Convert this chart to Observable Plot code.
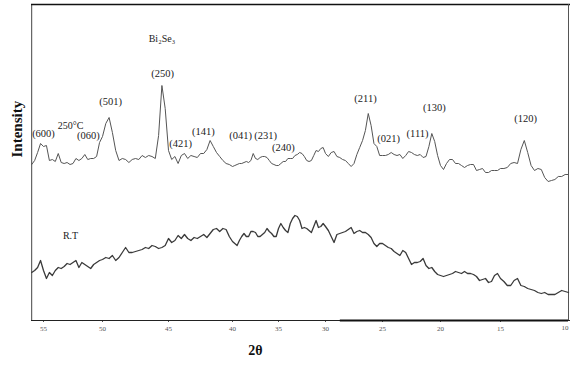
<!DOCTYPE html>
<html>
<head>
<meta charset="utf-8">
<script src="https://cdn.jsdelivr.net/npm/d3@7"></script>
<script src="https://cdn.jsdelivr.net/npm/@observablehq/plot@0.6"></script>
<style>
  html, body { margin: 0; padding: 0; background: #fff; }
</style>
</head>
<body>
<div id="chart"></div>
<script>
// 2θ sampling grid (degrees), shared by both scans
const twoTheta = [
  56.00,55.75,55.50,55.25,55.00,54.75,54.50,54.25,54.00,53.75,
  53.50,53.25,53.00,52.75,52.50,52.25,52.00,51.75,51.50,51.25,
  51.00,50.75,50.50,50.25,50.00,49.75,49.50,49.25,49.00,48.75,
  48.50,48.25,48.00,47.75,47.50,47.25,47.00,46.75,46.50,46.25,
  46.00,45.75,45.50,45.25,45.00,44.75,44.50,44.25,44.00,43.75,
  43.50,43.25,43.00,42.75,42.50,42.25,42.00,41.75,41.50,41.25,
  41.00,40.75,40.50,40.25,40.00,39.75,39.50,39.25,39.00,38.75,
  38.50,38.25,38.00,37.75,37.50,37.25,37.00,36.75,36.50,36.25,
  36.00,35.75,35.50,35.25,35.00,34.75,34.50,34.25,34.00,33.75,
  33.50,33.25,33.00,32.75,32.50,32.25,32.00,31.75,31.50,31.25,
  31.00,30.75,30.50,30.25,30.00,29.75,29.50,29.25,29.00,28.75,
  28.50,28.25,28.00,27.75,27.50,27.25,27.00,26.75,26.50,26.25,
  26.00,25.75,25.50,25.25,25.00,24.75,24.50,24.25,24.00,23.75,
  23.50,23.25,23.00,22.75,22.50,22.25,22.00,21.75,21.50,21.25,
  21.00,20.75,20.50,20.25,20.00,19.75,19.50,19.25,19.00,18.75,
  18.50,18.25,18.00,17.75,17.50,17.25,17.00,16.75,16.50,16.25,
  16.00,15.75,15.50,15.25,15.00,14.75,14.50,14.25,14.00,13.75,
  13.50,13.25,13.00,12.75,12.50,12.25,12.00,11.75,11.50,11.25,
  11.00,10.75,10.50,10.25,10.00
];

// Intensity (a.u.) of the film annealed at 250 °C
const intensity250 = [
  156,160,168,177,174,175,160,161,159,167,
  158,157,158,156,157,162,160,162,166,161,
  162,162,164,178,184,197,203,188,170,160,
  162,161,158,161,162,161,165,163,165,164,
  162,185,235,212,170,161,164,157,165,167,
  162,165,164,163,167,167,171,180,174,168,
  164,160,157,156,154,155,156,157,157,158,
  159,158,160,167,162,161,163,164,164,163,
  160,157,156,155,155,157,159,159,162,162,
  162,165,166,168,167,164,160,159,160,165,
  170,169,172,173,167,164,168,169,164,163,
  161,160,157,154,157,166,173,180,190,207,
  195,177,174,165,165,165,166,168,166,165,
  166,162,165,169,168,166,165,166,163,164,
  174,187,179,165,155,151,157,161,161,157,
  157,155,153,155,156,156,150,151,152,148,
  148,150,150,150,152,152,153,157,158,157,
  171,180,168,155,150,152,151,143,139,140,
  141,144,144,146,146
];

// Intensity (a.u.) of the as-deposited film at room temperature
const intensityRT = [
  48,50,53,60,50,42,48,45,50,53,
  52,54,57,56,58,60,53,58,56,54,
  52,56,58,60,61,63,62,65,60,63,
  68,73,68,68,69,70,71,73,72,75,
  74,72,73,75,82,78,80,85,82,86,
  82,80,83,82,84,86,83,87,91,92,
  89,92,91,84,79,77,75,80,84,87,
  84,84,89,89,88,84,84,86,88,92,
  89,87,84,84,92,97,93,90,88,97,
  102,105,104,100,92,93,92,90,88,94,
  100,93,94,97,94,90,84,78,86,87,
  88,89,91,93,87,89,90,88,88,86,
  83,77,74,77,77,75,73,72,69,67,
  65,70,68,62,56,58,58,59,62,55,
  52,53,49,46,45,44,45,46,47,49,
  48,47,49,47,47,46,44,40,41,42,
  38,39,45,47,42,39,35,35,40,42,
  35,34,32,31,30,28,27,28,26,26,
  26,28,30,29,28
];

// x-axis tick values (2θ, degrees)
const xTickValues = [55, 50, 45, 40, 35, 30, 25, 20, 15, 10];
// the scanned axis is not evenly spaced: pixel position of each tick value
const xTickPixels = [43, 102, 168, 232, 278, 325, 382, 440, 500, 568];
// ticks labelled in the normal way (the last one sits at the edge and is labelled separately)
const xTickLabelled = [55, 50, 45, 40, 35, 30, 25, 20, 15];
const xEdgeTick = [10];

// Miller-index annotations
const peakLabels    = ["(600)","(060)","(501)","(250)","(421)","(141)","(041)","(231)","(240)","(211)","(021)","(111)","(130)","(120)"];
const peakLabelX    = [55.0, 51.19, 49.39, 45.45, 44.06, 42.27, 39.13, 36.41, 34.47, 26.49, 24.48, 21.98, 20.52, 13.16];
const peakLabelY    = [187, 185, 219, 247, 177, 189, 185, 185, 173, 222, 182, 187, 213, 202];

// sample / phase annotations
const sampleLabels  = ["Bi\u2082Se\u2083", "250\u00B0C", "R.T"];
const sampleLabelX  = [45.5, 52.71, 52.71];
const sampleLabelY  = [282, 195, 85];

const serif = "'Liberation Serif', 'Times New Roman', Times, serif";

const rows250 = twoTheta.map((t, i) => ({t, v: intensity250[i]}));
const rowsRT  = twoTheta.map((t, i) => ({t, v: intensityRT[i]}));
const peakRows = peakLabels.map((s, i) => ({s, x: peakLabelX[i], y: peakLabelY[i]}));
const sampleRows = sampleLabels.map((s, i) => ({s, x: sampleLabelX[i], y: sampleLabelY[i]}));

const chart = Plot.plot({
  width: 570,
  height: 366,
  marginLeft: 31,
  marginRight: 0,
  marginTop: 4,
  marginBottom: 46,
  style: {fontFamily: serif, fontSize: "7px", color: "#555", background: "#fff"},
  x: {
    type: "linear",
    domain: xTickValues,
    range: xTickPixels,
    ticks: xTickLabelled,
    tickSize: 2,
    tickPadding: 4,
    tickFormat: d => String(d),
    label: null
  },
  y: {domain: [0, 316], axis: null},
  marks: [
    Plot.ruleX([56], {stroke: "#444", strokeWidth: 1}),
    Plot.ruleY([316], {stroke: "#111", strokeWidth: 1.6}),
    Plot.ruleY([0], {stroke: "#222", strokeWidth: 1.1}),
    Plot.ruleY([0], {x1: 28.7, x2: 10, stroke: "#111", strokeWidth: 2.2}),
    Plot.tickX(xEdgeTick, {x: d => d, y1: 0, y2: -2, stroke: "#555"}),
    Plot.text(xEdgeTick, {x: d => d, text: d => String(d), frameAnchor: "bottom", dy: 9, textAnchor: "end", fontSize: 7, fill: "#555"}),
    Plot.line(rows250, {x: "t", y: "v", stroke: "#555", strokeWidth: 1}),
    Plot.line(rowsRT, {x: "t", y: "v", stroke: "#3a3a3a", strokeWidth: 1.3}),
    Plot.text(peakRows, {x: "x", y: "y", text: "s", fontSize: 10.5, fill: "#222"}),
    Plot.text(sampleRows, {x: "x", y: "y", text: "s", fontSize: 10, fill: "#222"}),
    Plot.text(["Intensity"], {frameAnchor: "left", dx: -14, dy: -5, rotate: -90, text: d => d, fontWeight: "bold", fontSize: 15, fill: "#111"}),
    Plot.text(["2\u03B8"], {x: 37.5, frameAnchor: "bottom", dy: 34, text: d => d, fontWeight: "bold", fontSize: 14, fill: "#111"})
  ]
});
document.getElementById("chart").appendChild(chart);
</script>
</body>
</html>
